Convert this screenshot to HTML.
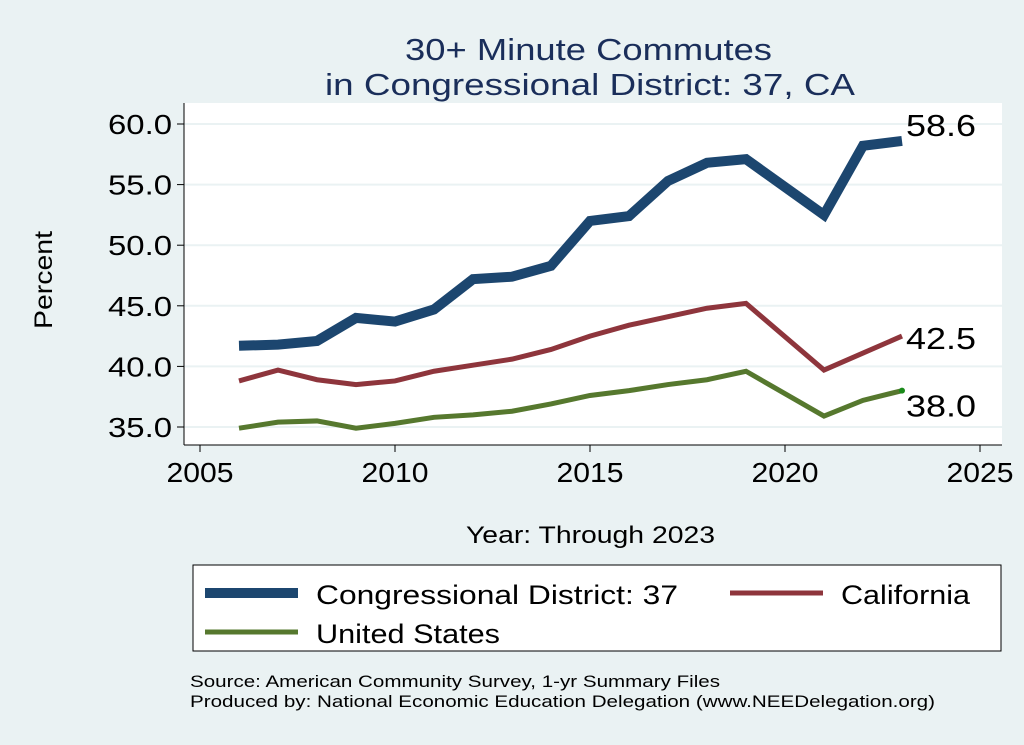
<!DOCTYPE html>
<html><head><meta charset="utf-8"><style>
body{margin:0;background:#eaf2f3;}
svg{display:block;font-family:"Liberation Sans",sans-serif;}
</style></head><body>
<svg id="c" width="1024" height="745">
<rect x="0" y="0" width="1024" height="745" fill="#eaf2f3"/>
<text x="405" y="60" font-size="31" fill="#1a2e5a" textLength="367" lengthAdjust="spacingAndGlyphs">30+ Minute Commutes</text>
<text x="325" y="95" font-size="31" fill="#1a2e5a" textLength="530" lengthAdjust="spacingAndGlyphs">in Congressional District:  37, CA</text>
<rect x="184" y="103" width="818" height="342" fill="#fff"/>
<g id="grid"></g><g id="axes"></g><g id="series"></g>
<text x="52" y="280" font-size="25" fill="#000" text-anchor="middle" textLength="98" lengthAdjust="spacingAndGlyphs" transform="rotate(-90 52 280)">Percent</text>
<text x="466" y="543" font-size="24" fill="#000" textLength="249" lengthAdjust="spacingAndGlyphs">Year: Through 2023</text>
<g>
<rect x="193" y="565" width="808" height="86" fill="#fff" stroke="#000" stroke-width="1"/>
<line x1="205" y1="593" x2="298" y2="593" stroke="#1c466f" stroke-width="10"/>
<text x="316" y="604" font-size="27" textLength="362" lengthAdjust="spacingAndGlyphs">Congressional District:  37</text>
<line x1="730" y1="593" x2="823" y2="593" stroke="#8e353c" stroke-width="5"/>
<text x="841" y="604" font-size="27" textLength="129" lengthAdjust="spacingAndGlyphs">California</text>
<line x1="205" y1="632" x2="298" y2="632" stroke="#56782e" stroke-width="5"/>
<text x="316" y="643" font-size="27" textLength="184" lengthAdjust="spacingAndGlyphs">United States</text>
</g>
<text x="190" y="687" font-size="17" textLength="530" lengthAdjust="spacingAndGlyphs">Source: American Community Survey, 1-yr Summary Files</text>
<text x="190" y="707" font-size="17" textLength="745" lengthAdjust="spacingAndGlyphs">Produced by: National Economic Education Delegation (www.NEEDelegation.org)</text>
</svg>
<script>
const years=[2006,2007,2008,2009,2010,2011,2012,2013,2014,2015,2016,2017,2018,2019,2021,2022,2023];
const district=[41.7,41.8,42.1,44.0,43.7,44.7,47.2,47.4,48.3,52.0,52.4,55.3,56.8,57.1,52.5,58.2,58.6];
const california=[38.8,39.7,38.9,38.5,38.8,39.6,40.1,40.6,41.4,42.5,43.4,44.1,44.8,45.2,39.7,41.1,42.5];
const unitedStates=[34.9,35.4,35.5,34.9,35.3,35.8,36.0,36.3,36.9,37.6,38.0,38.5,38.9,39.6,35.9,37.2,38.0];
const yTicks=[35,40,45,50,55,60];
const xTicks=[2005,2010,2015,2020,2025];
const NS="http://www.w3.org/2000/svg";
const X=v=>200+(v-2005)*39, Y=v=>427-(v-35)*12.12;
function mk(t,a,p){const e=document.createElementNS(NS,t);for(const k in a)e.setAttribute(k,a[k]);document.getElementById(p).appendChild(e);return e;}
yTicks.forEach(t=>{
 const g=mk('line',{x1:184,x2:1002,y1:Y(t),y2:Y(t),stroke:'#eaf2f3','stroke-width':2},'grid');
 
 
 mk('line',{x1:177,x2:184,y1:Y(t),y2:Y(t),stroke:'#000'},'axes');
 const l=mk('text',{x:172,y:Y(t)+10,'font-size':28,'text-anchor':'end',textLength:64,lengthAdjust:'spacingAndGlyphs'},'axes');l.textContent=t.toFixed(1);
 
 
});
xTicks.forEach(t=>{
 mk('line',{x1:X(t),x2:X(t),y1:445,y2:452,stroke:'#000'},'axes');
 const l=mk('text',{x:X(t),y:482,'font-size':28,'text-anchor':'middle',textLength:67,lengthAdjust:'spacingAndGlyphs'},'axes');l.textContent=t;
 
 
});
mk('line',{x1:184,x2:184,y1:103,y2:445,stroke:'#000'},'axes');
mk('line',{x1:184,x2:1002,y1:445,y2:445,stroke:'#000'},'axes');
function series(vals,color,w,name,ly){
 const p=mk('polyline',{points:years.map((y,i)=>X(y)+','+Y(vals[i])).join(' '),fill:'none',stroke:color,'stroke-width':w,'stroke-linejoin':'miter'},'series');
 
 
 const last=vals[vals.length-1];
 const t=mk('text',{x:X(years[years.length-1])+4,y:Y(last)+ly,'font-size':31,textLength:70,lengthAdjust:'spacingAndGlyphs'},'series');t.textContent=last.toFixed(1);
 
 
}
series(unitedStates,'#56782e',5,'line-us',26);
series(california,'#8e353c',5,'line-california',13);
series(district,'#1c466f',10,'line-district',-5);
const d=mk('circle',{cx:X(2023),cy:Y(unitedStates[unitedStates.length-1]),r:3,fill:'#1a8a1a'},'series');


</script>
</body></html>
